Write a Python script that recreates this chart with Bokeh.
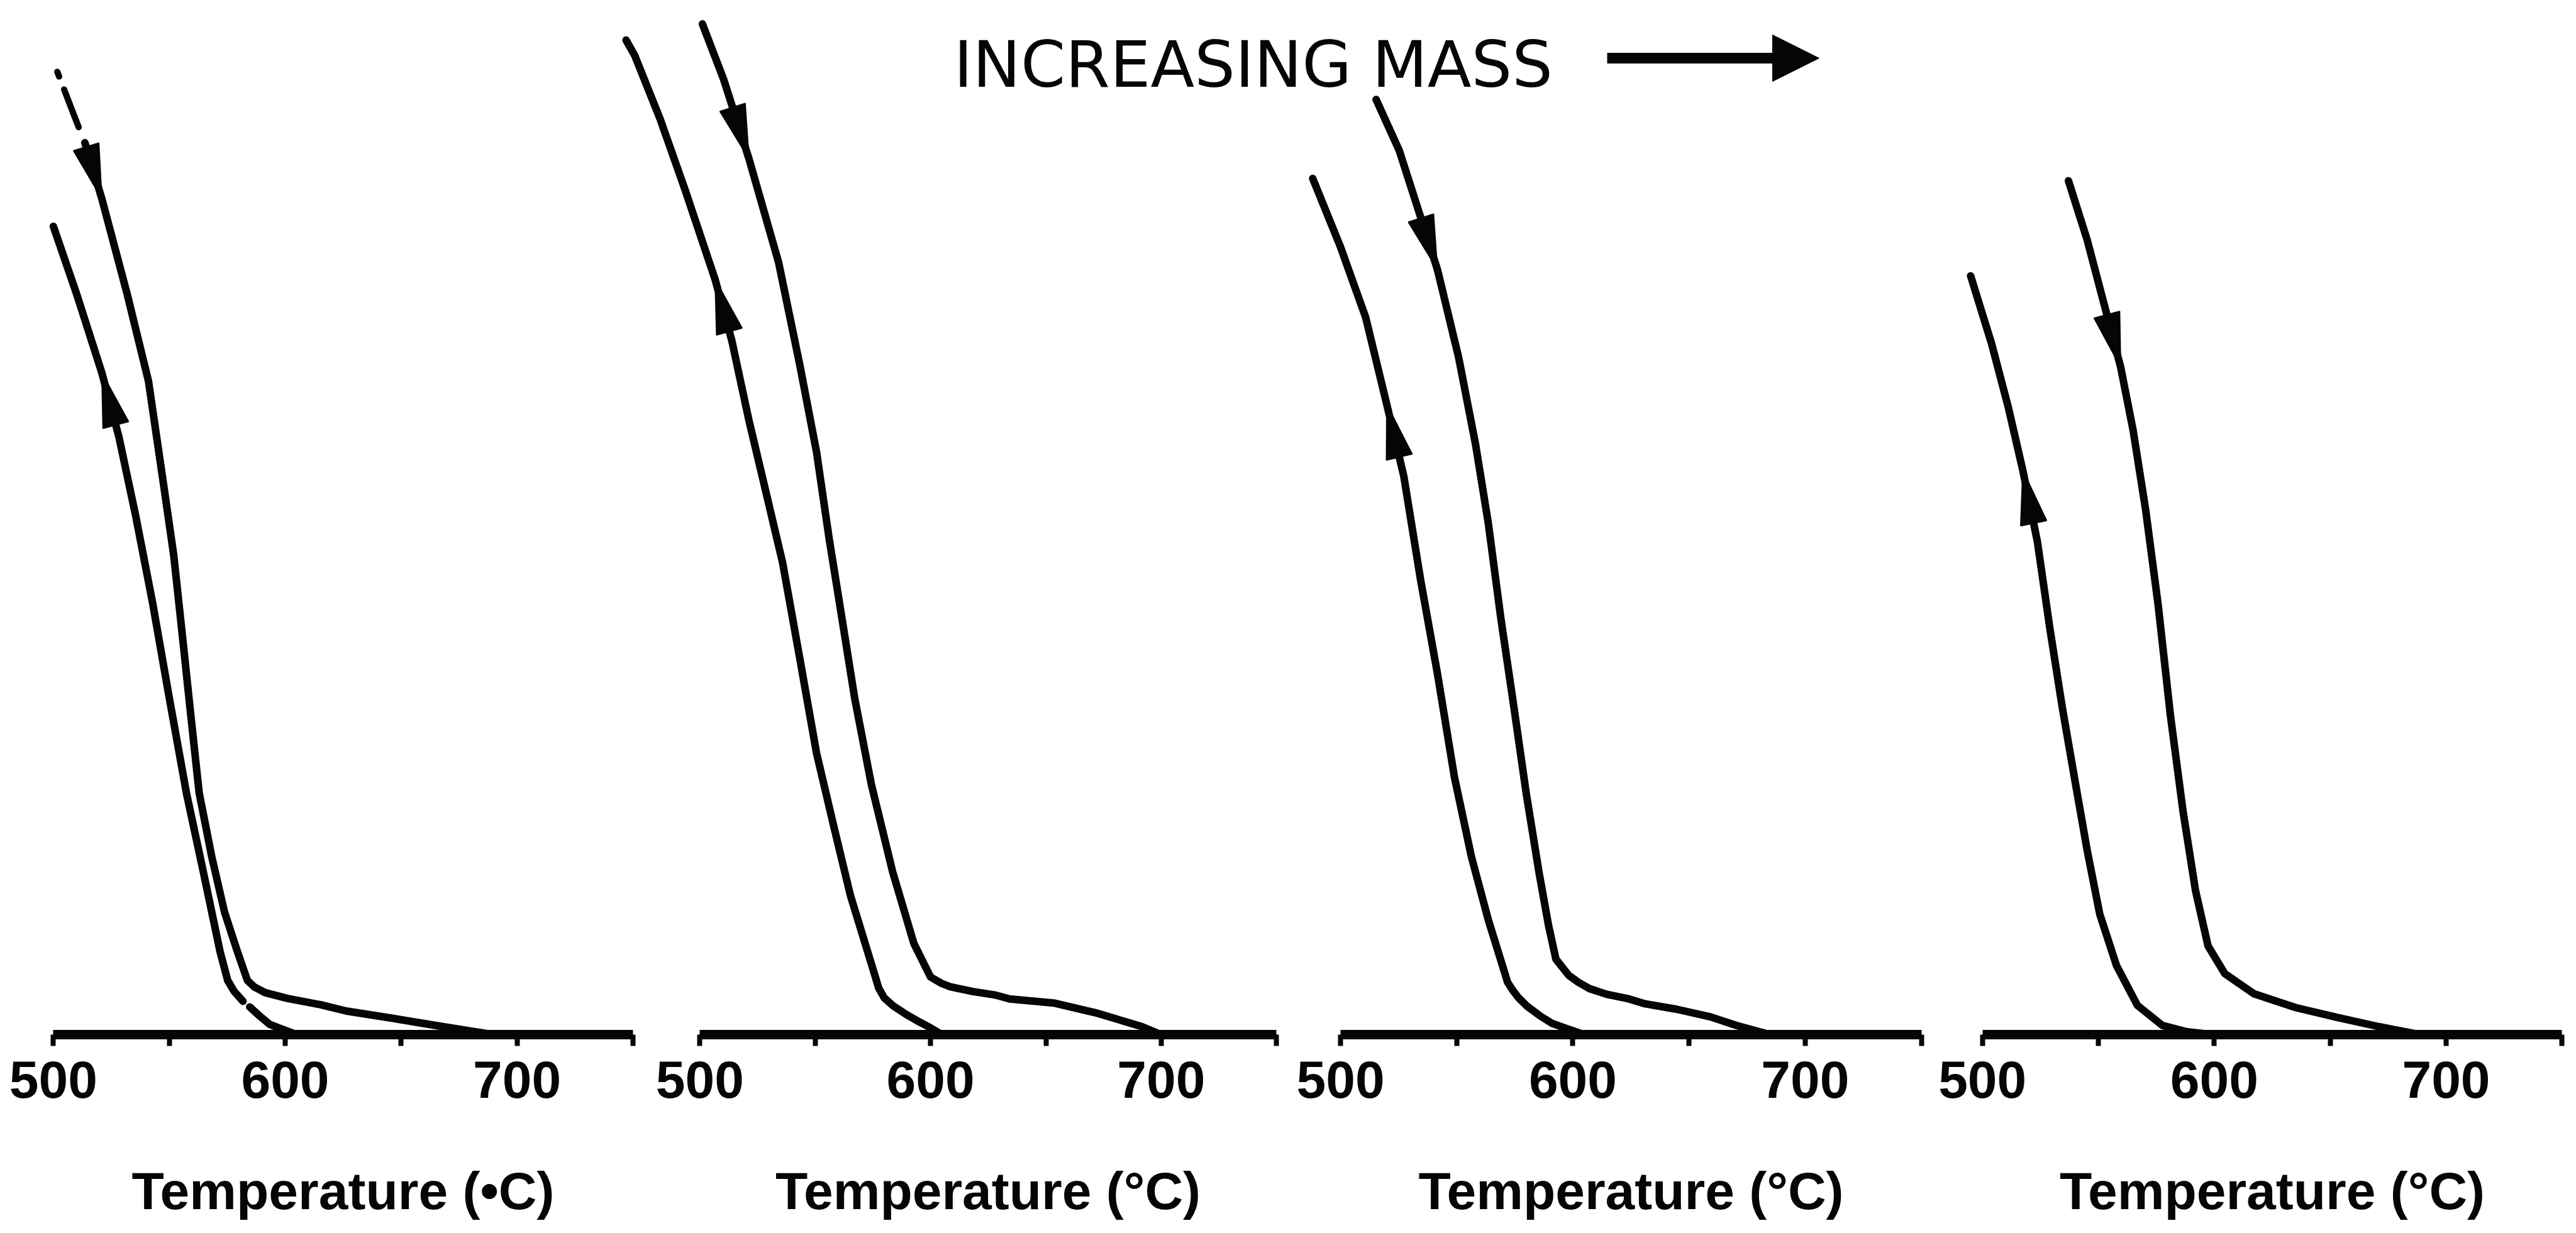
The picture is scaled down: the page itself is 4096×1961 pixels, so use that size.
import math
from bokeh.plotting import figure
from bokeh.models import Range1d, LinearAxis, FixedTicker, Label, Arrow, NormalHead
from bokeh.embed import file_html
from bokeh.resources import INLINE

nan = float("nan")

# Mass (arbitrary units) against temperature (deg C) for four samples of increasing mass.
# Each sample: a heating run (mass falls) and a cooling run (mass recovers).

heat1_T = [501.7, 510.9, 513.6, 520.9, 531.8, 541.0, 547.0, 551.9, 555.6, 559.2, 562.9,
           568.3, 573.8, 579.3, 583.7, 586.6, 591.3, 600.9, 615.2, 626.4, 645.4, 663.4, 690.0]
heat1_m = [167.0, 157.4, 154.7, 145.0, 128.5, 113.4, 96.9, 83.2, 69.4, 55.7, 41.9,
           30.9, 21.3, 14.5, 9.4, 8.3, 7.3, 6.3, 5.2, 4.1, 2.9, 1.7, 0.0]
cool1_T = [500.0, 510.0, 520.9, 528.2, 535.5, 542.8, 550.0, 557.4, 564.7, 571.9, 575.2,
           578.0, 581.8, nan, 584.7, 589.4, 593.3, 597.1, 605.0]
cool1_m = [140.2, 128.5, 114.8, 103.8, 90.0, 74.9, 58.4, 41.9, 28.2, 14.4, 9.4,
           7.5, 5.8, nan, 4.8, 3.1, 1.8, 1.2, 0.0]

heat2_T = [501.1, 510.3, 521.3, 534.1, 543.3, 550.6, 556.1, 561.6, 567.1, 574.4, 583.6,
           592.8, 600.0, 604.8, 608.6, 618.2, 627.8, 634.3, 653.4, 672.5, 691.6, 700.0]
heat2_m = [175.3, 165.7, 151.9, 134.0, 116.2, 101.0, 85.9, 72.2, 58.4, 43.3, 28.2,
           15.8, 10.0, 8.9, 8.3, 7.5, 6.9, 6.2, 5.5, 3.7, 1.4, 0.0]
cool2_T = [468.0, 471.8, 482.8, 493.7, 506.6, 513.9, 521.3, 528.6, 535.9, 543.3, 550.6,
           557.9, 565.3, 576.1, 577.5, 579.9, 583.8, 589.5, 595.2, 599.0, 605.0]
cool2_m = [172.5, 169.8, 158.8, 146.4, 131.0, 120.3, 106.5, 94.2, 81.8, 65.3, 48.8,
           36.4, 24.1, 10.0, 8.1, 6.4, 5.0, 3.5, 2.2, 1.4, 0.0]

heat3_T = [515.3, 525.3, 541.7, 550.8, 558.1, 563.6, 569.0, 574.5, 579.9, 585.4, 589.5,
           592.7, 598.2, 602.3, 607.1, 614.6, 624.1, 630.6, 644.8, 659.1, 670.5, 685.0]
heat3_m = [162.2, 153.3, 132.7, 117.5, 102.4, 88.7, 72.2, 57.1, 41.9, 28.2, 19.0,
           13.1, 10.3, 9.1, 8.0, 7.0, 6.2, 5.4, 4.4, 3.1, 1.6, 0.0]
cool3_T = [488.0, 499.8, 510.8, 519.9, 527.2, 534.4, 541.7, 549.0, 556.3, 563.6, 571.9,
           574.3, 576.6, 580.4, 586.1, 590.9, 595.6, 605.0]
cool3_m = [148.5, 136.8, 124.4, 109.3, 96.9, 79.0, 62.6, 44.7, 30.9, 19.9, 9.1,
           7.6, 6.4, 4.9, 3.2, 2.0, 1.3, 0.0]

heat4_T = [537.1, 545.2, 552.4, 559.6, 565.0, 570.4, 575.8, 581.1, 586.5, 591.9, 597.3,
           604.5, 617.1, 635.1, 653.0, 670.9, 689.0]
heat4_m = [148.1, 137.8, 126.8, 115.8, 104.8, 91.0, 74.5, 55.3, 38.8, 25.0, 15.4,
           10.6, 7.1, 4.7, 3.0, 1.4, 0.0]
cool4_T = [494.9, 503.9, 511.1, 517.4, 523.7, 529.1, 534.5, 539.8, 545.2, 550.6, 557.8,
           566.8, 577.6, 588.3, 600.0]
cool4_m = [131.6, 119.9, 108.9, 97.9, 85.5, 70.4, 56.6, 44.3, 31.9, 20.9, 12.0,
           5.1, 1.6, 0.5, 0.0]

# temperature at which each direction arrow sits on its curve
heat_arrow_T = [520.9, 521.3, 541.7, 559.6]
cool_arrow_T = [520.9, 506.6, 519.9, 517.4]

tick_temps = [500, 600, 700]
minor_temps = [550, 650, 750]
axis_titles = ["Temperature (\u2022C)", "Temperature (\u00b0C)",
               "Temperature (\u00b0C)", "Temperature (\u00b0C)"]
header_text = "INCREASING MASS"

runs = [
    (heat1_T, heat1_m, cool1_T, cool1_m),
    (heat2_T, heat2_m, cool2_T, cool2_m),
    (heat3_T, heat3_m, cool3_T, cool3_m),
    (heat4_T, heat4_m, cool4_T, cool4_m),
]

# ---- page geometry ----
PAGE_W, PAGE_H = 4096, 1961
S = 0.917                      # drawing scale
AXIS_SPAN = [(92, 1097), (1213, 2213), (2324, 3331), (3437, 4442)]   # x of 500 / 750 deg C
AXIS_Y = 1794                  # baseline height of the temperature axes
UNIT = 10.0                    # height of one mass unit
ky = UNIT * S                  # px per mass unit
y_top = AXIS_Y * S / ky
y_bot = -(PAGE_H - AXIS_Y * S) / ky

INK = "#050505"
LINE_W = 12
HEAD_LEN, HEAD_W = 86, 42

p = figure(width=PAGE_W, height=PAGE_H, x_range=Range1d(0, PAGE_W),
           y_range=Range1d(y_bot, y_top), x_axis_type=None, y_axis_type=None,
           output_backend="svg", toolbar_location=None, title=None,
           min_border=0, background_fill_color="white", border_fill_color="white")
p.outline_line_color = None


def arrowhead(T, m, tip, step, kx):
    """Filled triangle whose tip sits on the curve at temperature `tip`,
    pointing along the direction of travel."""
    j = T.index(tip)
    n = j + step
    dx = (T[j] - T[n]) * kx
    dy = (m[j] - m[n]) * ky
    d = math.hypot(dx, dy)
    ux, uy = dx / d, dy / d
    bx, by = -HEAD_LEN * ux, -HEAD_LEN * uy
    qx, qy = -uy * HEAD_W / 2, ux * HEAD_W / 2
    xs = [T[j], T[j] + (bx + qx) / kx, T[j] + (bx - qx) / kx]
    ys = [m[j], m[j] + (by + qy) / ky, m[j] + (by - qy) / ky]
    return xs, ys


for i, (hT, hm, cT, cm) in enumerate(runs):
    a, b = AXIS_SPAN[i]
    kx = (b - a) * S / 250.0
    start = 500 - a * S / kx
    name = f"run{i + 1}"
    p.extra_x_ranges[name] = Range1d(start, start + PAGE_W / kx)

    # heating curve (first run starts with a broken stroke above its arrow)
    lead = 2 if i == 0 else 0
    if lead:
        p.line(hT[:lead], hm[:lead], x_range_name=name, line_color=INK,
               line_width=LINE_W - 2, line_dash="8 22 90", line_cap="round")
    p.line(hT[lead:], hm[lead:], x_range_name=name, line_color=INK,
           line_width=LINE_W, line_join="round", line_cap="round")
    p.line(cT, cm, x_range_name=name, line_color=INK,
           line_width=LINE_W, line_join="round", line_cap="round")

    for xs, ys in (arrowhead(hT, hm, heat_arrow_T[i], -1, kx),
                   arrowhead(cT, cm, cool_arrow_T[i], +1, kx)):
        p.patch(xs, ys, x_range_name=name, fill_color=INK, line_color=INK, line_width=2)

    ax = LinearAxis(x_range_name=name, fixed_location=0, bounds=(500, 750),
                    ticker=FixedTicker(ticks=tick_temps, minor_ticks=minor_temps),
                    axis_label=axis_titles[i])
    ax.axis_line_color = INK
    ax.axis_line_width = 15
    ax.major_tick_line_color = INK
    ax.major_tick_line_width = 8
    ax.major_tick_out = 18
    ax.major_tick_in = 0
    ax.minor_tick_line_color = INK
    ax.minor_tick_line_width = 8
    ax.minor_tick_out = 18
    ax.minor_tick_in = 0
    ax.major_label_text_font = "Liberation Sans"
    ax.major_label_text_font_style = "bold"
    ax.major_label_text_font_size = "84px"
    ax.major_label_text_color = INK
    ax.major_label_standoff = 24
    ax.axis_label_text_font = "Liberation Sans"
    ax.axis_label_text_font_style = "bold"
    ax.axis_label_text_font_size = "84px"
    ax.axis_label_text_color = INK
    ax.axis_label_standoff = 98
    p.add_layout(ax, "below")

# header with its arrow
p.add_layout(Label(x=1516, y=PAGE_H - 102, x_units="screen", y_units="screen",
                   text=header_text, text_font="DejaVu Sans", text_font_size="102px",
                   text_color=INK, text_baseline="alphabetic", text_align="left"))
p.add_layout(Arrow(x_start=2555, y_start=PAGE_H - 92, x_end=2892, y_end=PAGE_H - 92,
                   start_units="screen", end_units="screen", line_width=17, line_color=INK,
                   end=NormalHead(size=74, fill_color=INK, line_color=INK, line_width=1)))

open("out.html", "w").write(file_html(p, INLINE))
